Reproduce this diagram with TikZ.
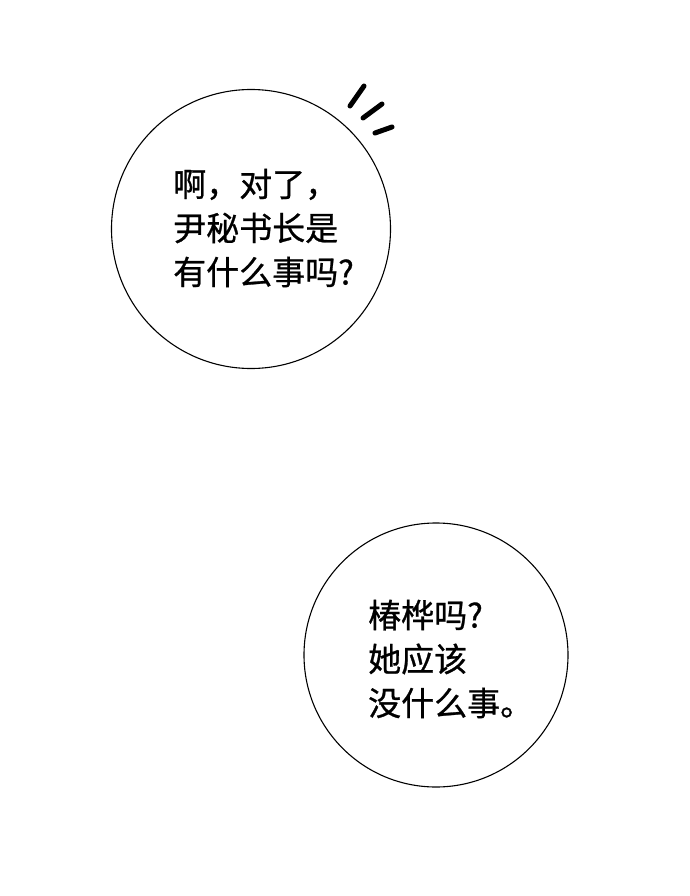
\documentclass[tikz,border=0pt]{standalone}
\usepackage{fontspec}
\newfontfamily\cjk[FakeBold=0.8]{Noto Sans CJK SC}
\tikzset{
  bubble/.style={draw,circle,line width=1.1pt,inner sep=0pt},
  speech/.style={font=\cjk\fontsize{33}{44}\selectfont,align=left,anchor=west,inner sep=0pt},
  flick/.style={line width=5pt,line cap=round}
}
\begin{document}
\begin{tikzpicture}[x=1pt,y=-1pt]
  % Page
  \useasboundingbox (0,0) rectangle (690,896);

  % Draw the first bubble
  \node[bubble,minimum size=279pt] (ask) at (251,229) {};
  \node[speech] (asktext) at (173,228) {啊，对了，\\尹秘书长是\\有什么事吗?};

  % Draw the flicks
  \draw [flick] (350,106) -- (364,86);
  \draw [flick] (363,118) -- (382,104);
  \draw [flick] (375,133) -- (392,127);

  % Draw the second bubble
  \node[bubble,minimum size=264pt] (reply) at (436,655) {};
  \node[speech] (replytext) at (368,659) {椿桦吗?\\她应该\\没什么事。};
\end{tikzpicture}
\end{document}
